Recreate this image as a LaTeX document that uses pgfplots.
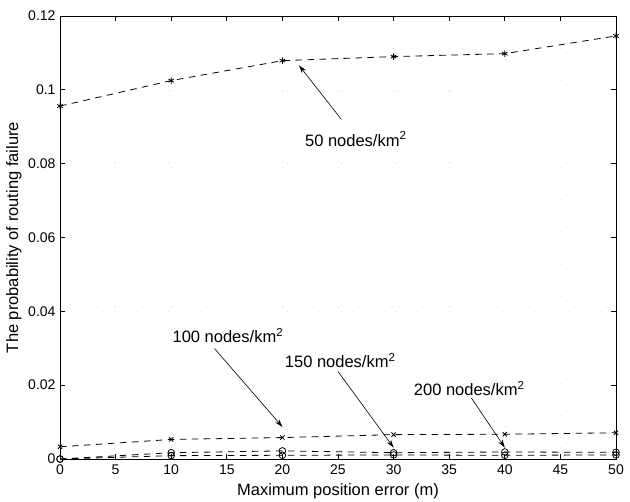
\documentclass[border=0pt]{standalone}
\usepackage{fontspec}
\setmainfont{Liberation Sans}
\usepackage{pgfplots}
\pgfplotsset{compat=1.18}
\usetikzlibrary{arrows.meta}
\begin{document}
\begin{tikzpicture}[x=1pt,y=1pt]
\path[use as bounding box] (0,0) rectangle (630,502);
\begin{axis}[
  at={(60pt,43pt)}, anchor=south west,
  scale only axis, width=556pt, height=443pt,
  xmin=0, xmax=50, ymin=0, ymax=0.12,
  xtick={0,5,...,50},
  ytick={0,0.02,0.04,0.06,0.08,0.1,0.12},
  yticklabels={0,0.02,0.04,0.06,0.08,0.1,0.12},
  tick align=inside,
  major tick length=5pt,
  axis line style={line width=0.9pt},
  every tick/.style={black, line width=0.7pt},
  /pgf/number format/assume math mode=true,
  tick label style={font=\fontsize{14}{16}\selectfont},
  xticklabel style={yshift=-2pt},
  yticklabel style={xshift=-1pt},
  grid=major,
  major grid style={gray!25, line width=0.5pt, dash pattern=on 0.8pt off 10pt},
  label style={font=\fontsize{16.5}{19}\selectfont},
  xlabel={Maximum position error (m)},
  ylabel={The probability of routing failure},
  xlabel style={at={(axis description cs:0.5,-0.072)}, anchor=center},
  ylabel style={at={(axis description cs:-0.083,0.5)}, anchor=center},
  every axis plot/.append style={black, line width=0.8pt, dash pattern=on 6.5pt off 5.5pt},
  mark options={solid, line width=0.8pt},
]
% 50 nodes/km^2
\addplot[mark=asterisk, mark size=3.2pt] coordinates {
(0,0.0956) (10,0.1025) (20,0.1079) (30,0.1090) (40,0.1098) (50,0.1146)};
% 100 nodes/km^2
\addplot[mark=x, mark size=3pt] coordinates {
(0,0.0033) (10,0.0053) (20,0.0058) (30,0.0066) (40,0.0067) (50,0.0071)};
% 150 nodes/km^2
\addplot[mark=o, mark size=3.3pt] coordinates {
(0,0) (10,0.0009) (20,0.0010) (30,0.0011) (40,0.0010) (50,0.0011)};
% 200 nodes/km^2
\addplot[mark=o, mark size=3.3pt] coordinates {
(0,0) (10,0.0017) (20,0.0022) (30,0.0017) (40,0.0019) (50,0.0018)};

\node[font=\fontsize{16.5}{19}\selectfont] at (axis cs:26.6,0.0867) {50 nodes/km\textsuperscript{2}};
\draw[-{Stealth[length=8pt,width=5pt]}, line width=0.6pt] (axis cs:25.3,0.0920) -- (axis cs:21.5,0.1066);

\node[font=\fontsize{16.5}{19}\selectfont] at (axis cs:15.1,0.0334) {100 nodes/km\textsuperscript{2}};
\draw[-{Stealth[length=8pt,width=5pt]}, line width=0.6pt] (axis cs:13.9,0.0299) -- (axis cs:20.0,0.0087);

\node[font=\fontsize{16.5}{19}\selectfont] at (axis cs:25.2,0.0267) {150 nodes/km\textsuperscript{2}};
\draw[-{Stealth[length=8pt,width=5pt]}, line width=0.6pt] (axis cs:25.0,0.0237) -- (axis cs:30.0,0.0031);

\node[font=\fontsize{16.5}{19}\selectfont] at (axis cs:36.8,0.0190) {200 nodes/km\textsuperscript{2}};
\draw[-{Stealth[length=8pt,width=5pt]}, line width=0.6pt] (axis cs:37.0,0.0165) -- (axis cs:40.0,0.0031);
\end{axis}
\end{tikzpicture}
\end{document}
